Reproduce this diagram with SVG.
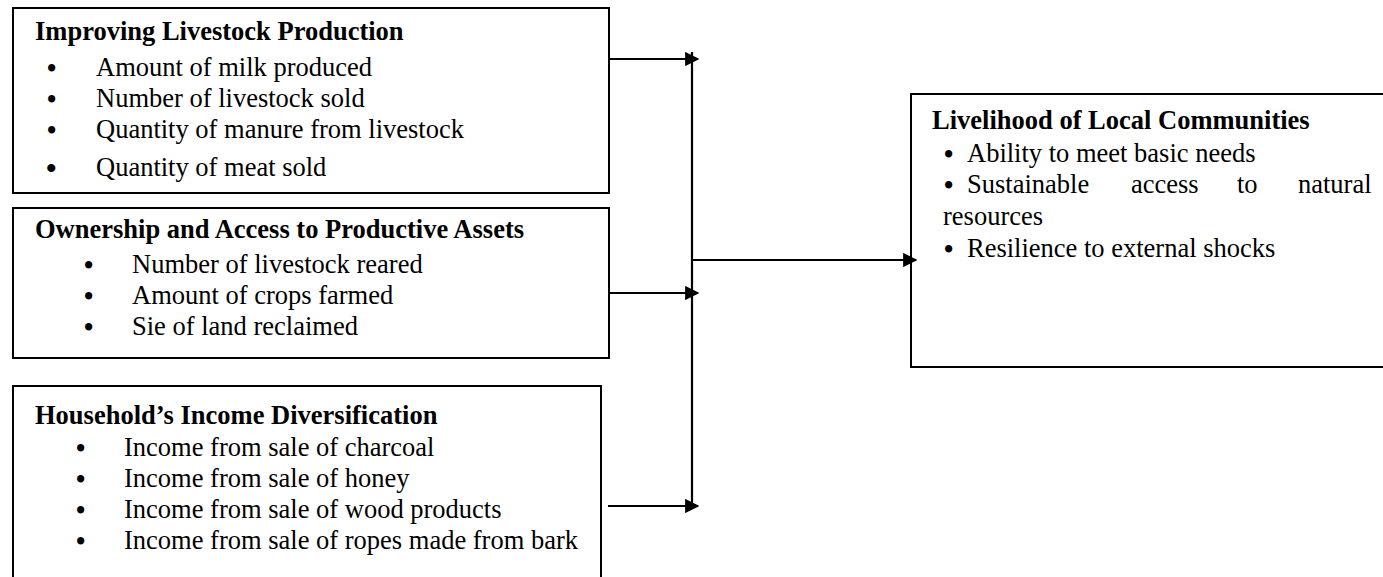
<svg xmlns="http://www.w3.org/2000/svg" width="1383" height="577" viewBox="0 0 1383 577">
<defs>
<style>
.box{fill:#fff;stroke:#000;stroke-width:2}
.t{font-family:"Liberation Serif","Times New Roman",serif;font-size:26.5px;fill:#000}
.b{font-weight:bold}
.bu{font-weight:bold}
.ln{stroke:#000;stroke-width:2.2;fill:none}
</style>
<marker id="ah" viewBox="0 0 10 10" refX="9" refY="5" markerWidth="6.5" markerHeight="6.5" markerUnits="strokeWidth" orient="auto">
<path d="M0,0 L10,5 L0,10 z" fill="#000"/>
</marker>
</defs>
<rect width="1383" height="577" fill="#fff"/>
<g id="node-livestock">
<rect class="box" x="13" y="8" width="596" height="185"/>
<text class="t b" x="35" y="40">Improving Livestock Production</text>
<text class="t"><tspan class="bu" x="47" y="77">•</tspan><tspan x="96" y="76">Amount of milk produced</tspan></text>
<text class="t"><tspan class="bu" x="47" y="108">•</tspan><tspan x="96" y="107">Number of livestock sold</tspan></text>
<text class="t"><tspan class="bu" x="47" y="139">•</tspan><tspan x="96" y="138">Quantity of manure from livestock</tspan></text>
<text class="t"><tspan class="bu" x="46" y="178" style="font-size:30px">•</tspan><tspan x="96" y="176">Quantity of meat sold</tspan></text>
</g>
<g id="node-ownership">
<rect class="box" x="13" y="208" width="596" height="150"/>
<text class="t b" x="35" y="238">Ownership and Access to Productive Assets</text>
<text class="t"><tspan class="bu" x="84" y="274">•</tspan><tspan x="132" y="273">Number of livestock reared</tspan></text>
<text class="t"><tspan class="bu" x="84" y="305">•</tspan><tspan x="132" y="304">Amount of crops farmed</tspan></text>
<text class="t"><tspan class="bu" x="84" y="336">•</tspan><tspan x="132" y="335">Sie of land reclaimed</tspan></text>
</g>
<g id="node-income">
<rect class="box" x="13" y="386" width="588" height="210"/>
<text class="t b" x="35" y="424">Household’s Income Diversification</text>
<text class="t"><tspan class="bu" x="76" y="457">•</tspan><tspan x="124" y="456">Income from sale of charcoal</tspan></text>
<text class="t"><tspan class="bu" x="76" y="488">•</tspan><tspan x="124" y="487">Income from sale of honey</tspan></text>
<text class="t"><tspan class="bu" x="76" y="519">•</tspan><tspan x="124" y="518">Income from sale of wood products</tspan></text>
<text class="t"><tspan class="bu" x="76" y="550">•</tspan><tspan x="124" y="549">Income from sale of ropes made from bark</tspan></text>
</g>
<g id="node-livelihood">
<rect class="box" x="911" y="94" width="490" height="273"/>
<text class="t b" x="932" y="129">Livelihood of Local Communities</text>
<text class="t"><tspan class="bu" x="944" y="163">•</tspan><tspan x="967" y="162">Ability to meet basic needs</tspan></text>
<text class="t"><tspan class="bu" x="944" y="194">•</tspan><tspan x="967" y="193">Sustainable</tspan><tspan x="1131" y="193">access</tspan><tspan x="1237" y="193">to</tspan><tspan x="1298" y="193">natural</tspan></text>
<text class="t" x="943" y="225">resources</text>
<text class="t"><tspan class="bu" x="944" y="258">•</tspan><tspan x="967" y="257">Resilience to external shocks</tspan></text>
</g>
<g id="connectors">
<line class="ln" x1="692" y1="52" x2="692" y2="507"/>
<line class="ln" x1="609" y1="59" x2="698" y2="59" marker-end="url(#ah)"/>
<line class="ln" x1="609" y1="293" x2="698" y2="293" marker-end="url(#ah)"/>
<line class="ln" x1="608" y1="506" x2="698" y2="506" marker-end="url(#ah)"/>
<line class="ln" x1="692" y1="260" x2="916" y2="260" marker-end="url(#ah)"/>
</g>
</svg>
